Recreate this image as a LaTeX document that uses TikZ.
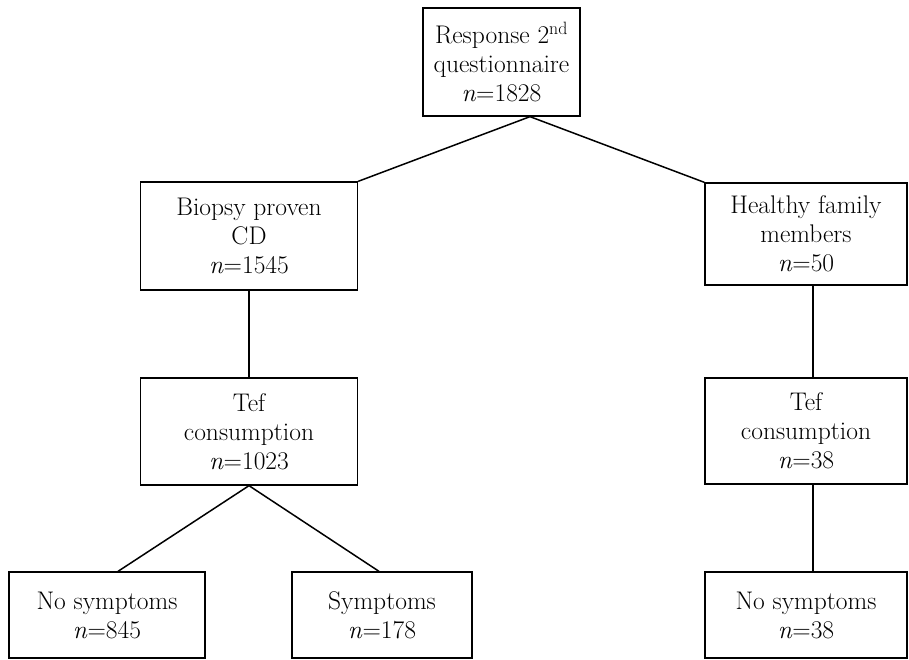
\documentclass[tikz,border=0pt]{standalone}
\usepackage{tikz}
\usetikzlibrary{calc}

\begin{document}
\begin{tikzpicture}[x=1pt, y=-1pt,
	box/.style={draw, line width=1.3pt, rectangle, align=center, inner sep=0pt,
		font=\fontsize{25.5}{29}\selectfont},
	link/.style={line width=1.5pt}]
			%%%%% START %%%%%
			\useasboundingbox (0, 0) rectangle (909, 659);
			
			\node[box, minimum width=157, minimum height=108] (resp) at (501.5, 62) {Response 2\textsuperscript{nd}\\questionnaire\\\textit{n}=1828};
			
			\node[box, minimum width=217, minimum height=108] (bio) at (249, 236) {Biopsy proven\\CD\\\textit{n}=1545};
			\node[box, minimum width=202, minimum height=102] (hfm) at (806, 234) {Healthy family\\members\\\textit{n}=50};
			
			\node[box, minimum width=217, minimum height=107] (tef1) at (249, 431.5) {Tef\\consumption\\\textit{n}=1023};
			\node[box, minimum width=202, minimum height=106] (tef2) at (806, 431) {Tef\\consumption\\\textit{n}=38};
			
			\node[box, minimum width=196, minimum height=86] (nosym1) at (107, 615) {No symptoms\\\textit{n}=845};
			\node[box, minimum width=180, minimum height=86] (sym) at (382, 615) {Symptoms\\\textit{n}=178};
			\node[box, minimum width=202, minimum height=86] (nosym2) at (806, 615) {No symptoms\\\textit{n}=38};
			
			\coordinate (split1) at ([xshift=28.5]resp.south);
			\draw[link] (bio.north east) -- (split1) -- (hfm.north west);
			
			\draw[link] (bio.south) -- (tef1.north);
			\draw[link] ([xshift=7]hfm.south) -- ([xshift=7]tef2.north);
			
			\draw[link] ([xshift=11]nosym1.north) -- (tef1.south) -- ([xshift=-3]sym.north);
			\draw[link] ([xshift=7]tef2.south) -- ([xshift=7]nosym2.north);
			%%%%% END %%%%%
\end{tikzpicture}
\end{document}
